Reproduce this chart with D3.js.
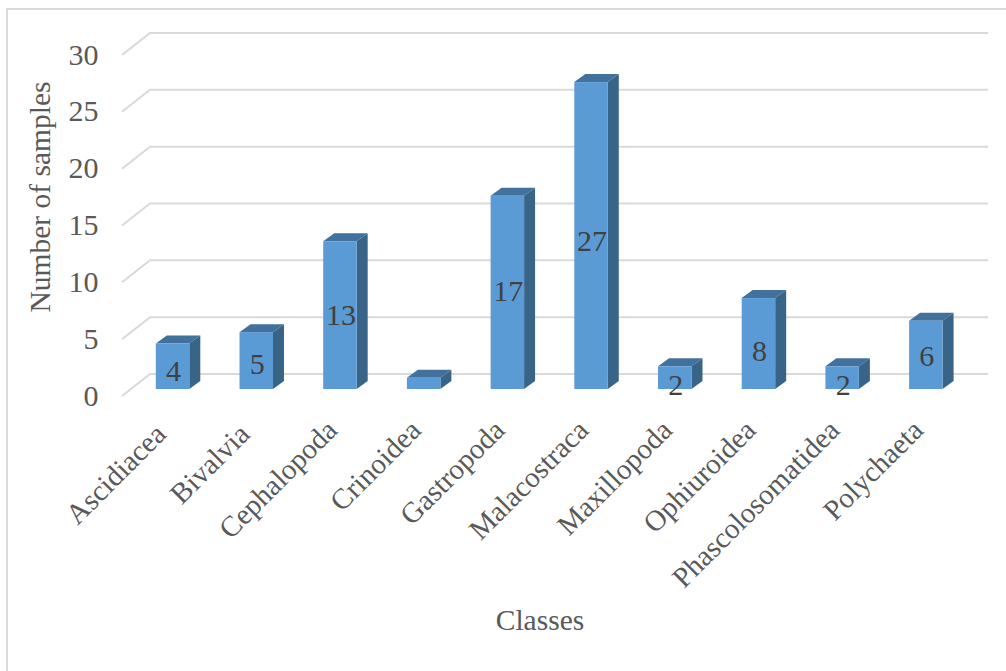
<!DOCTYPE html>
<html>
<head>
<meta charset="utf-8">
<script src="https://cdn.jsdelivr.net/npm/d3@7/dist/d3.min.js"></script>
<style>
html,body{margin:0;padding:0;background:#fff}
svg{display:block}
text{font-family:"Liberation Serif","Times New Roman",serif}
</style>
</head>
<body>
<svg id="chart" width="1006" height="671"></svg>
<script>
const categories = ["Ascidiacea","Bivalvia","Cephalopoda","Crinoidea","Gastropoda","Malacostraca","Maxillopoda","Ophiuroidea","Phascolosomatidea","Polychaeta"];
const samples = [4,5,13,1,17,27,2,8,2,6];
const yTicks = [0,5,10,15,20,25,30];

const svg = d3.select("#chart");
const depthX = 11, depthY = 8;      // bar depth offset
const wallX = 28, wallY = 22;       // floor depth offset

const x = d3.scaleBand().domain(categories).range([130.7, 967.7]).paddingInner(0.6).paddingOuter(0.3);
const y = d3.scaleLinear().domain([0, 30]).range([396, 55]);
// Front face baseline sits a little behind the front edge of the floor
const baseShift = -7;

// Frame
svg.append("path").attr("d","M7,671V9H1006").attr("fill","none").attr("stroke","#d9d9d9").attr("stroke-width",2);

// Gridlines on the back wall with their diagonal side returns
const grid = svg.append("g").attr("fill","none").attr("stroke","#d9d9d9").attr("stroke-width",2);
yTicks.forEach(t => {
  grid.append("path").attr("d", d3.line()([
    [122, y(t)], [122 + wallX, y(t) - wallY], [988, y(t) - wallY]
  ]));
});

// Value axis labels
svg.append("g").selectAll("text").data(yTicks).join("text")
  .attr("x", 98.5).attr("y", d => y(d) + 9.5)
  .attr("text-anchor","end").attr("font-size",30).attr("fill","#595959")
  .text(d => d);

// 3D bars
const bars = svg.append("g").selectAll("g").data(samples).join("g");
const L = (d,i) => x(categories[i]);
const R = (d,i) => x(categories[i]) + x.bandwidth();
const T = d => y(d) + baseShift;
const B = y(0) + baseShift;

bars.append("path").attr("fill","#41719c").attr("d",(d,i)=>d3.line()([
  [L(d,i),T(d)],[L(d,i)+depthX,T(d)-depthY],[R(d,i)+depthX,T(d)-depthY],[R(d,i),T(d)]
])+"Z");
bars.append("path").attr("fill","#386488").attr("d",(d,i)=>d3.line()([
  [R(d,i),T(d)],[R(d,i)+depthX,T(d)-depthY],[R(d,i)+depthX,B-depthY],[R(d,i),B]
])+"Z");
bars.append("rect").attr("fill","#5b9bd5")
  .attr("x",(d,i)=>L(d,i)).attr("y",d=>T(d))
  .attr("width",x.bandwidth()).attr("height",d=>B-T(d));

// Data labels; the single-sample bar is too thin to carry one
const labelNudge = [5,3,0,0,-1,5,7,7,7,1];
bars.append("text")
  .attr("x",(d,i)=>L(d,i)+x.bandwidth()/2+1)
  .attr("y",(d,i)=>(T(d)+B)/2+10+labelNudge[i])
  .attr("text-anchor","middle").attr("font-size",30).attr("fill","#404040")
  .text(d=>d > 1 ? d : "");

// Category labels; the two at the far left sit slightly further out
svg.append("g").selectAll("text").data(categories).join("text")
  .attr("transform",(d,i)=>{
    const s = i < 2 ? 4 : 0;
    return `translate(${x(d)+x.bandwidth()/2-1-s},${432+s}) rotate(-45)`;
  })
  .attr("text-anchor","end").attr("font-size",29).attr("fill","#595959")
  .text(d=>d);

// Axis titles
svg.append("text").attr("transform","translate(50,197) rotate(-90)")
  .attr("text-anchor","middle").attr("font-size",29.5).attr("fill","#595959").text("Number of samples");
svg.append("text").attr("x",540).attr("y",630)
  .attr("text-anchor","middle").attr("font-size",29.5).attr("fill","#595959").text("Classes");
</script>
</body>
</html>
